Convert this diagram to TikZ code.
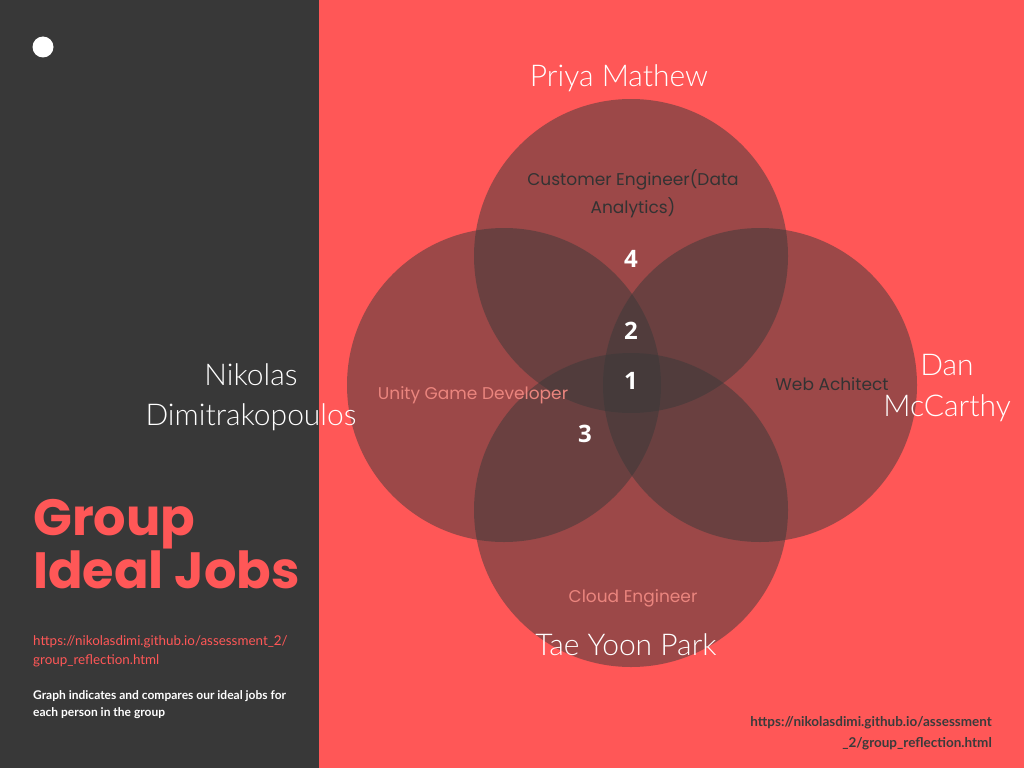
\documentclass[tikz,border=0pt]{standalone}
\usepackage{fontspec}
\setmainfont{Lato}
\newfontfamily\namefont{Lato Light}
\newfontfamily\jobfont{Poppins}
\newfontfamily\numfont{Open Sans}
\newfontfamily\titlefont{Poppins}
\definecolor{panel}{HTML}{383838}
\definecolor{coral}{HTML}{FF5757}
\definecolor{disc}{HTML}{3A3A3A}
\definecolor{jobdark}{HTML}{333333}
\definecolor{jobpink}{HTML}{EB857E}
\definecolor{urldark}{HTML}{3B3B3B}
\tikzset{
  venn/.style={circle, fill=disc, fill opacity=0.5, draw=none, minimum size=314pt, inner sep=0pt},
  person/.style={text=white, font={\namefont\fontsize{30}{40.5}\selectfont}, align=center, inner sep=0pt},
  jobdk/.style={text=jobdark, font={\jobfont\fontsize{17}{28}\selectfont}, align=center, inner sep=0pt},
  jobpk/.style={text=jobpink, font={\jobfont\fontsize{17}{28}\selectfont}, align=center, inner sep=0pt},
  count/.style={text=white, font={\numfont\bfseries\fontsize{24}{24}\selectfont}, inner sep=0pt},
}
\begin{document}
\begin{tikzpicture}[x=1pt, y=-1pt]
  \useasboundingbox (0,0) rectangle (1024,768);
  % background halves
  \fill[coral] (0,0) rectangle (1024,768);
  \fill[panel] (0,0) rectangle (319,768);
  \fill[white] (43,47) circle (10.5);

  % four overlapping discs
  \node[venn] (top) at (631,256) {};
  \node[venn] (left) at (504,385) {};
  \node[venn] (right) at (760,385) {};
  \node[venn] (bottom) at (631,510) {};

  % people
  \node[person] (priya) at (619,78) {Priya Mathew};
  \node[person] (nikolas) at (251,397) {Nikolas\\Dimitrakopoulos};
  \node[person] (dan) at (947,388) {Dan\\McCarthy};
  \node[person] (tae) at (626,645) {Tae Yoon Park};

  % ideal jobs
  \node[jobdk] (jobtop) at (633,194) {Customer Engineer(Data\\Analytics)};
  \node[jobpk] (jobleft) at (473,395) {Unity Game Developer};
  \node[jobdk] (jobright) at (832,384) {Web Achitect};
  \node[jobpk] (jobbottom) at (633,598) {Cloud Engineer};

  % overlap counts
  \node[count] (n4) at (631,259) {4};
  \node[count] (n2) at (631,331) {2};
  \node[count] (n1) at (631,381) {1};
  \node[count] (n3) at (585,434) {3};

  % title and notes on the dark panel
  \node[anchor=base west, inner sep=0pt, text=coral, font={\titlefont\bfseries\fontsize{51}{53}\selectfont}] (title1) at (33,535) {Group};
  \node[anchor=base west, inner sep=0pt, text=coral, font={\titlefont\bfseries\fontsize{51}{53}\selectfont}] (title2) at (33,588) {Ideal Jobs};
  \node[anchor=west, inner sep=0pt, align=left, text=coral, font={\fontsize{13.4}{19}\selectfont}] (url1) at (33,651) {https://nikolasdimi.github.io/assessment\_2/\\group\_reflection.html};
  \node[anchor=west, inner sep=0pt, align=left, text=white, font={\bfseries\fontsize{12}{17}\selectfont}] (desc) at (33,705) {Graph indicates and compares our ideal jobs for\\each person in the group};
  \node[anchor=east, inner sep=0pt, align=right, text=urldark, font={\bfseries\fontsize{13.5}{21}\selectfont}] (url2) at (992,733) {https://nikolasdimi.github.io/assessment\\\_2/group\_reflection.html};
\end{tikzpicture}
\end{document}
